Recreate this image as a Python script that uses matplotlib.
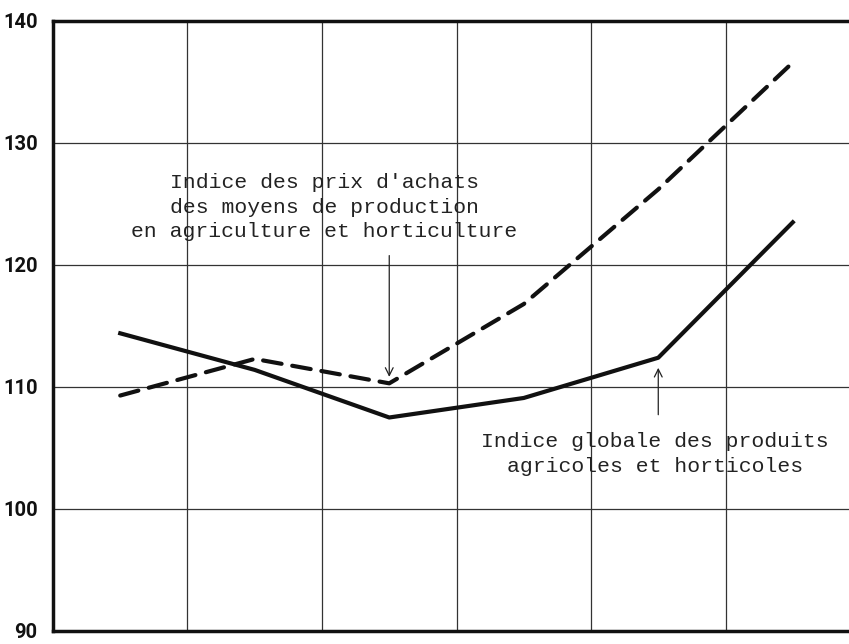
import matplotlib.pyplot as plt

# period positions (no x labels in the original)
periods = [0.5, 1.5, 2.5, 3.5, 4.5, 5.5]
prix_achats = [109.3, 112.3, 110.3, 116.8, 126.2, 136.6]
produits = [114.4, 111.4, 107.5, 109.1, 112.4, 123.5]
yticks = [90, 100, 110, 120, 130, 140]

fig = plt.figure(figsize=(8.49, 6.44), dpi=100)
ax = fig.add_axes([0.0624, 0.0202, 0.9376, 0.9472])

ax.set_xlim(0, 5.918)
ax.set_ylim(90, 140)

# grid
for gx in [1, 2, 3, 4, 5]:
    ax.axvline(gx, color='#333333', lw=0.9, zorder=1)
for gy in [100, 110, 120, 130]:
    ax.axhline(gy, color='#333333', lw=0.9, zorder=1)

ax.plot(periods, produits, color='#111111', lw=3, solid_joinstyle='round', zorder=3)
ax.plot(periods, prix_achats, color='#111111', lw=3, ls=(0, (4.5, 2.6)),
        dash_capstyle='round', zorder=3)

txt = dict(family='Liberation Mono', fontsize=15.4, color='#222222', ha='center',
           linespacing=1.38)
ax.text(2.015, 124.75, "Indice des prix d'achats\ndes moyens de production\nen agriculture et horticulture",
        va='center', **txt)
ax.annotate('', xy=(2.5, 110.6), xytext=(2.5, 121.0),
            arrowprops=dict(arrowstyle='->', lw=0.9, color='#222222', mutation_scale=14))

ax.text(4.476, 104.5, "Indice globale des produits\nagricoles et horticoles",
        va='center', **txt)
ax.annotate('', xy=(4.5, 111.8), xytext=(4.5, 107.5),
            arrowprops=dict(arrowstyle='->', lw=0.9, color='#222222', mutation_scale=14))

ax.set_xticks([])
ax.set_yticks(yticks)
ax.set_yticklabels([str(v) for v in yticks], family='Roboto',
                   fontweight='bold', fontsize=14.5, color='#111111')
ax.tick_params(axis='y', length=0, pad=11)

for side in ['left', 'top', 'bottom']:
    ax.spines[side].set_linewidth(2.5)
    ax.spines[side].set_color('#111111')
ax.spines['right'].set_visible(False)

fig.savefig('out.png', dpi=100)
